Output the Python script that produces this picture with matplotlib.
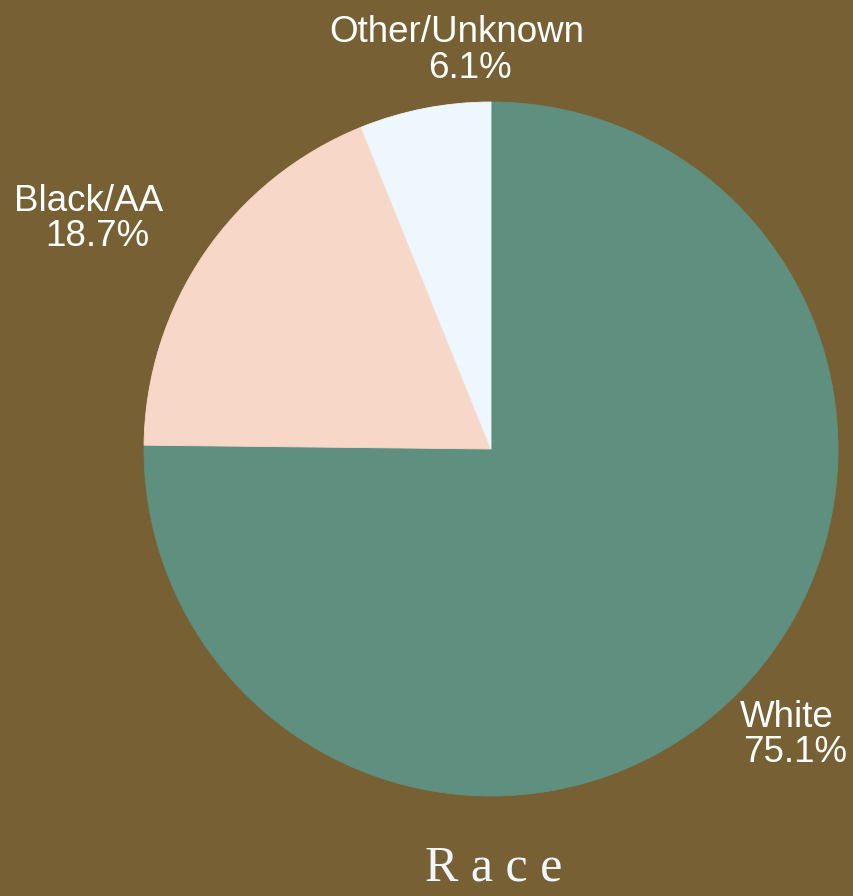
import matplotlib.pyplot as plt

# datos del grafico
categorias = ['White', 'Black/AA', 'Other/Unknown']
porcentajes = [75.1, 18.7, 6.1]
colores = ['#5f8f7f', '#f7d8c8', '#eef6fe']

fondo = '#776033'
W, H = 854, 896

fig = plt.figure(figsize=(W / 100, H / 100), dpi=100, facecolor=fondo)
# ejes colocados para que el pastel quede centrado en (491, 449) px, radio 347 px
ax = fig.add_axes([144 / W, 100 / H, 694 / W, 694 / H])
ax.set_facecolor(fondo)

cunas, _ = ax.pie(porcentajes, colors=colores, startangle=90, counterclock=False,
                  radius=1, wedgeprops=dict(linewidth=0.6))
for c, col in zip(cunas, colores):
    c.set_edgecolor(col)
ax.set_xlim(-1, 1)
ax.set_ylim(-1, 1)
ax.set_aspect('equal')
ax.axis('off')

# etiquetas: (x linea 1, x linea 2, linea base 1, linea base 2) en pixeles
pos_etiquetas = {
    'White': (787, 795, 727, 762),
    'Black/AA': (89, 97, 211, 246),
    'Other/Unknown': (457, 470, 42, 78),
}
for cat, val in zip(categorias, porcentajes):
    x1, x2, y1, y2 = pos_etiquetas[cat]
    estilo = dict(ha='center', va='baseline', color='white', fontsize=26.5,
                  family='Liberation Sans')
    fig.text(x1 / W, 1 - y1 / H, cat, **estilo)
    fig.text(x2 / W, 1 - y2 / H, f'{val:.1f}%', **estilo)

# titulo
fig.text(494 / W, 1 - 868 / H, ' '.join('Race'), ha='center', va='center',
         color='#f0f6fc', fontsize=36, family='Liberation Serif')

fig.savefig('out.png', dpi=100, facecolor=fondo)
